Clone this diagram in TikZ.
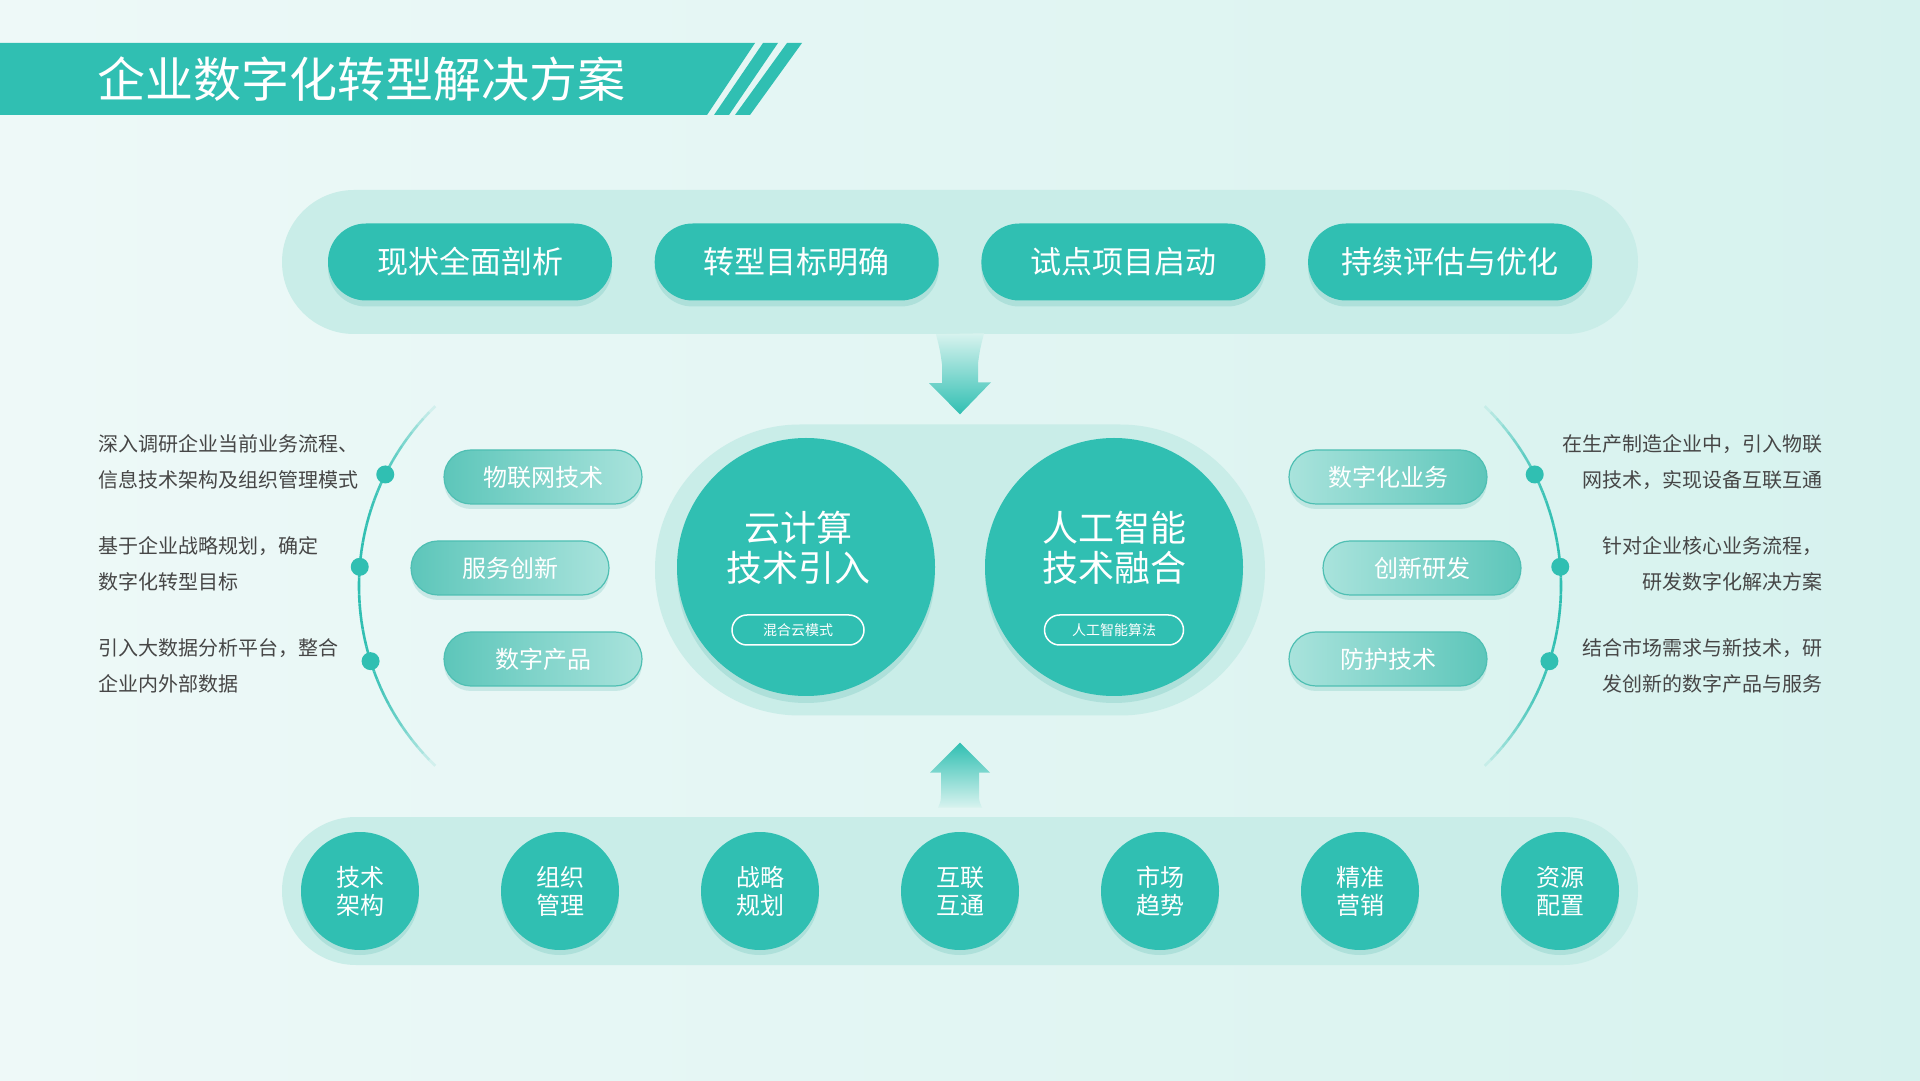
\documentclass[tikz,border=0pt]{standalone}
\usepackage{fontspec}
\setmainfont{Noto Sans CJK SC}
\usetikzlibrary{positioning,shadows,calc}
\definecolor{teal0}{HTML}{30BFB2}
\definecolor{tealdark}{HTML}{229E93}
\definecolor{tealsoft}{HTML}{5DC6BA}
\definecolor{tealpale}{HTML}{A9E3DC}
\definecolor{tealrim}{HTML}{4FBFB3}
\definecolor{panelc}{HTML}{C9EDE8}
\definecolor{arrowpale}{HTML}{D8F3EF}
\definecolor{bgl}{HTML}{EEF9F8}
\definecolor{bgr}{HTML}{D6F2EE}
\definecolor{notec}{HTML}{464646}
\begin{document}
\begin{tikzpicture}[x=1pt,y=1pt]
\tikzset{
  panel/.style={rectangle, rounded corners=#1, fill=panelc, inner sep=0pt},
  softshadow/.style={drop shadow={shadow xshift=0pt, shadow yshift=-#1, opacity=.16, fill=tealdark}},
  stage/.style={rectangle, rounded corners=38pt, minimum width=284pt, minimum height=77pt,
    inner sep=0pt, fill=teal0, text=white, font=\fontsize{31}{36}\selectfont, softshadow=6pt},
  hub/.style={circle, minimum size=258pt, inner sep=0pt, fill=teal0, softshadow=7pt},
  hubtext/.style={text=white, align=center, font=\fontsize{36}{40}\selectfont},
  hubtag/.style={rectangle, rounded corners=15pt, minimum width=#1, minimum height=30pt,
    inner sep=0pt, draw=white, line width=1.5pt, text=white, font=\fontsize{14}{16}\selectfont},
  sidetag/.style={rectangle, rounded corners=27pt, minimum width=198pt, minimum height=54pt,
    inner sep=0pt, draw=tealrim, line width=1.2pt, text=white, font=\fontsize{24}{28}\selectfont, softshadow=5pt},
  lefttag/.style={sidetag, left color=tealsoft, right color=tealpale},
  righttag/.style={sidetag, left color=tealpale, right color=tealsoft},
  note/.style={text=notec, font=\fontsize{20}{36}\selectfont, inner sep=0pt},
  leftnote/.style={note, anchor=west, align=left},
  rightnote/.style={note, anchor=east, align=right},
  arcline/.style={draw=teal0, line width=2.6pt},
  dot/.style={circle, fill=teal0, minimum size=18pt, inner sep=0pt},
  basedot/.style={circle, minimum size=118pt, inner sep=0pt, fill=teal0, text=white,
    align=center, font=\fontsize{24}{28}\selectfont, softshadow=5pt}
}
\useasboundingbox (0,0) rectangle (1920,1080);
\shade[left color=bgl, right color=bgr] (0,0) rectangle (1920,1080);

% title bar
\fill[teal0] (0,965) -- (707,965) -- (755,1037) -- (0,1037) -- cycle;
\fill[teal0] (714,965) -- (729,965) -- (778,1037) -- (763,1037) -- cycle;
\fill[teal0] (735,965) -- (750,965) -- (802,1037) -- (787,1037) -- cycle;
\node[anchor=west, text=white, font=\fontsize{48}{56}\selectfont] (title) at (94,1001) {企业数字化转型解决方案};

% stages
\node[panel=72pt, minimum width=1356pt, minimum height=144pt] (toppanel) at (960,818) {};
\foreach \t [count=\i] in {现状全面剖析,转型目标明确,试点项目启动,持续评估与优化}
  \node[stage] (stage\i) at ({470+326.7*(\i-1)},818) {\t};

% core
\node[panel=145pt, minimum width=610pt, minimum height=291pt] (midpanel) at (960,510) {};
\shade[top color=arrowpale, bottom color=teal0]
  ([xshift=-24pt]toppanel.south) .. controls +(4,-16) .. ++(6,-30) -- ++(0,-19) -- ++(-13,0)
  -- ([yshift=10pt]midpanel.north) -- ++(31,32) -- ++(-13,0) -- ++(0,19)
  .. controls +(2,14) .. ++(6,30) -- cycle;
\node[hub] (cloud) at (806,513) {};
\node[hub] (ai) at (1114,513) {};
\node[hubtext] (cloudtext) at ([xshift=-8pt,yshift=19pt]cloud.center) {云计算\\技术引入};
\node[hubtag=132pt] (cloudtag) at ([xshift=-8pt,yshift=-63pt]cloud.center) {混合云模式};
\node[hubtext] (aitext) at ([yshift=19pt]ai.center) {人工智能\\技术融合};
\node[hubtag=139pt] (aitag) at ([yshift=-63pt]ai.center) {人工智能算法};

% side arcs
\coordinate (lhub) at (609,494);
\coordinate (rhub) at (1311,494);
\foreach \a [evaluate=\a as \op using {1-(abs(\a+1-180)/47)^3}] in {134,136,...,224}
  \draw[arcline, draw opacity=\op] ($(lhub)+(\a:250)$) arc[start angle=\a, end angle=\a+2, radius=250];
\foreach \a [evaluate=\a as \op using {1-(abs(\a+1)/47)^3}] in {-46,-44,...,44}
  \draw[arcline, draw opacity=\op] ($(rhub)+(\a:250)$) arc[start angle=\a, end angle=\a+2, radius=250];
\foreach \a [count=\i] in {153.5,175.6,197.5}
  \node[dot] (ldot\i) at ($(lhub)+(\a:250)$) {};
\foreach \a [count=\i] in {26.5,4.4,-17.5}
  \node[dot] (rdot\i) at ($(rhub)+(\a:250)$) {};

\foreach \t/\x/\y [count=\i] in {物联网技术/543/603, 服务创新/510/512, 数字产品/543/421}
  \node[lefttag] (lefttag\i) at (\x,\y) {\t};
\foreach \t/\x/\y [count=\i] in {数字化业务/1388/603, 创新研发/1422/512, 防护技术/1388/421}
  \node[righttag] (righttag\i) at (\x,\y) {\t};

\node[leftnote] (leftnote1) at (98,618) {深入调研企业当前业务流程、\\信息技术架构及组织管理模式};
\node[leftnote] (leftnote2) at (98,516) {基于企业战略规划，确定\\数字化转型目标};
\node[leftnote] (leftnote3) at (98,414) {引入大数据分析平台，整合\\企业内外部数据};
\node[rightnote] (rightnote1) at (1823,618) {在生产制造企业中，引入物联\\网技术，实现设备互联互通};
\node[rightnote] (rightnote2) at (1823,516) {针对企业核心业务流程，\\研发数字化解决方案};
\node[rightnote] (rightnote3) at (1823,414) {结合市场需求与新技术，研\\发创新的数字产品与服务};

% base
\node[panel=74pt, minimum width=1356pt, minimum height=148pt] (basepanel) at (960,189) {};
\shade[top color=teal0, bottom color=arrowpale]
  ([yshift=-27pt]midpanel.south) -- ++(30,-30) -- ++(-11,0) -- ++(0,-20)
  .. controls +(0,-8) .. ++(3,-15) -- ++(-44,0) .. controls +(3,7) .. ++(3,15)
  -- ++(0,20) -- ++(-11,0) -- cycle;
\foreach \a/\b [count=\i] in {技术/架构, 组织/管理, 战略/规划, 互联/互通, 市场/趋势, 精准/营销, 资源/配置}
  \node[basedot] (base\i) at ({360+200*(\i-1)},189) {\a\\\b};
\end{tikzpicture}
\end{document}
